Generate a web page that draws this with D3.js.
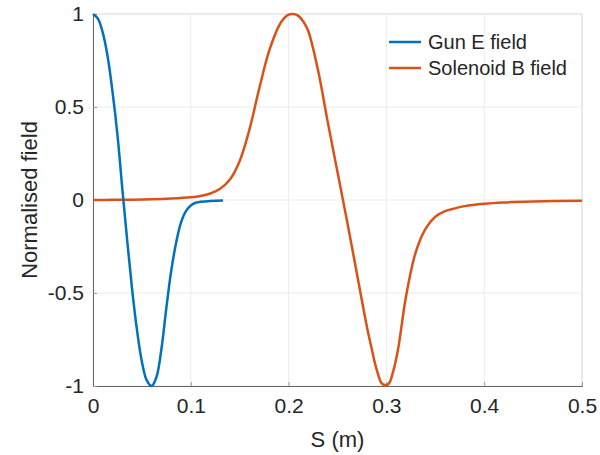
<!DOCTYPE html>
<html>
<head>
<meta charset="utf-8">
<script src="https://cdn.jsdelivr.net/npm/d3@7"></script>
<style>
  body { margin: 0; background: #fff; }
  text { font-family: "Liberation Sans", Arial, sans-serif; fill: #262626; }
</style>
</head>
<body>
<div class="canvas"></div>
<script>
// gun E field (s in m, normalised)
const gunS = [0, 0.005, 0.01, 0.015, 0.02, 0.025, 0.03, 0.035, 0.04, 0.045, 0.05, 0.055, 0.06,
  0.065, 0.07, 0.075, 0.08, 0.085, 0.09, 0.095, 0.1, 0.105, 0.11, 0.12, 0.133];
const gunE = [1, 0.975, 0.9, 0.77, 0.58, 0.35, 0.06, -0.22, -0.48, -0.7, -0.87, -0.97, -1,
  -0.95, -0.8, -0.58, -0.38, -0.23, -0.12, -0.06, -0.03, -0.015, -0.01, -0.005, -0.003];

// solenoid B field
const solS = [0, 0.02, 0.04, 0.06, 0.08, 0.1, 0.11, 0.12, 0.13, 0.14, 0.15, 0.16, 0.17, 0.18, 0.19,
  0.195, 0.2, 0.205, 0.21, 0.215, 0.22, 0.23, 0.24, 0.25, 0.26, 0.27, 0.28, 0.285, 0.29, 0.296,
  0.302, 0.307, 0.312, 0.32, 0.33, 0.34, 0.35, 0.36, 0.37, 0.38, 0.4, 0.42, 0.45, 0.5];
const solB = [0, 0.001, 0.002, 0.004, 0.008, 0.015, 0.022, 0.035, 0.06, 0.11, 0.21, 0.38, 0.6, 0.8, 0.935,
  0.975, 0.997, 1, 0.99, 0.96, 0.91, 0.7, 0.42, 0.15, -0.12, -0.4, -0.68, -0.8, -0.91, -0.99,
  -0.99, -0.92, -0.8, -0.52, -0.28, -0.155, -0.09, -0.06, -0.045, -0.033, -0.02, -0.013, -0.008, -0.004];

const xTicks = [0, 0.1, 0.2, 0.3, 0.4, 0.5];
const yTicks = [-1, -0.5, 0, 0.5, 1];
const seriesNames = ['Gun E field', 'Solenoid B field'];
const colors = ['#0072bd', '#d95319'];

const W = 600, H = 455;
const margin = {left: 93, right: 18, top: 14, bottom: 69};

const svg = d3.select('.canvas').append('svg')
    .attr('width', W)
    .attr('height', H);

const x = d3.scaleLinear().domain([0, 0.5]).range([margin.left, W - margin.right]);
const y = d3.scaleLinear().domain([-1, 1]).range([H - margin.bottom, margin.top]);

// grid
svg.append('g').selectAll('line').data(xTicks).join('line')
    .attr('x1', d => x(d)).attr('x2', d => x(d))
    .attr('y1', y(-1)).attr('y2', y(1))
    .attr('stroke', '#ececec');
svg.append('g').selectAll('line').data(yTicks).join('line')
    .attr('x1', x(0)).attr('x2', x(0.5))
    .attr('y1', d => y(d)).attr('y2', d => y(d))
    .attr('stroke', '#ececec');

// box top / right
svg.append('path')
    .attr('d', `M${x(0)},${y(1)}H${x(0.5)}V${y(-1)}`)
    .attr('fill', 'none')
    .attr('stroke', '#e0e0e0');

// axes
const xAxis = svg.append('g')
    .attr('transform', `translate(0,${y(-1)})`)
    .call(d3.axisBottom(x).tickValues(xTicks).tickSize(-4).tickPadding(12).tickFormat(d => String(d)));
const yAxis = svg.append('g')
    .attr('transform', `translate(${x(0)},0)`)
    .call(d3.axisLeft(y).tickValues(yTicks).tickSize(-4).tickPadding(9).tickFormat(d => String(d)));

[xAxis, yAxis].forEach(a => {
  a.select('.domain').attr('stroke', '#666');
  a.selectAll('.tick line').attr('stroke', '#999');
  a.selectAll('text').attr('font-size', 21).attr('fill', '#333')
    .attr('font-family', '"Liberation Sans", Arial, sans-serif');
});

// lines
const line = d3.line().curve(d3.curveCatmullRom.alpha(0.5));
const gunPts = gunS.map((s, i) => [x(s), y(gunE[i])]);
const solPts = solS.map((s, i) => [x(s), y(solB[i])]);

svg.append('path')
    .attr('d', line(solPts))
    .attr('fill', 'none')
    .attr('stroke', colors[1])
    .attr('stroke-width', 2.5);
svg.append('path')
    .attr('d', line(gunPts))
    .attr('fill', 'none')
    .attr('stroke', colors[0])
    .attr('stroke-width', 2.5);

// axis labels
svg.append('text')
    .text('S (m)')
    .attr('x', x(0.25))
    .attr('y', 447)
    .attr('text-anchor', 'middle')
    .attr('font-size', 22)
    .attr('fill', '#333');
svg.append('text')
    .text('Normalised field')
    .attr('transform', `translate(37,${y(0)}) rotate(-90)`)
    .attr('text-anchor', 'middle')
    .attr('font-size', 22)
    .attr('fill', '#333');

// legend
const leg = svg.append('g');
seriesNames.forEach((name, i) => {
  const ly = 42 + i * 26;
  leg.append('line')
      .attr('x1', 389).attr('x2', 421)
      .attr('y1', ly).attr('y2', ly)
      .attr('stroke', colors[i])
      .attr('stroke-width', 2.5);
  leg.append('text')
      .text(name)
      .attr('x', 428)
      .attr('y', ly + 7)
      .attr('font-size', 20)
      .attr('fill', '#333');
});
</script>
</body>
</html>
